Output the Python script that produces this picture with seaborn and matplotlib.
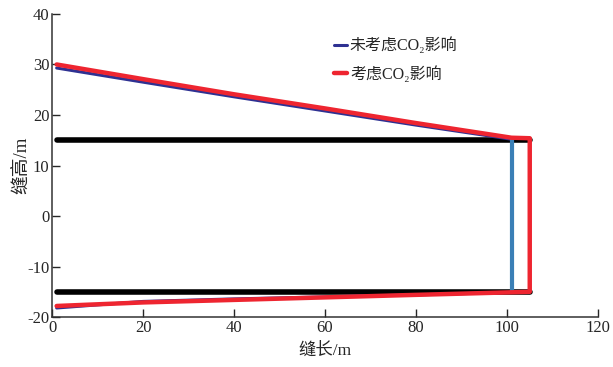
import matplotlib
matplotlib.use("Agg")
import matplotlib.pyplot as plt
import pandas as pd
import seaborn as sns

# fracture outline without CO2 effect (navy top/bottom, steel-blue tip)
x_no_co2 = [1, 20, 40, 60, 80, 101]
top_no_co2 = [29.3, 26.5, 23.6, 20.8, 18.0, 15.2]
bottom_no_co2 = [-18.2, -16.9, -16.4, -16.0, -15.6, -15.1]
tip_x_no_co2 = [101, 101]
tip_y_no_co2 = [15.2, -15.1]

# fracture outline with CO2 effect (red)
x_top_co2 = [1, 20, 40, 60, 80, 101, 105]
top_co2 = [30.0, 27.1, 24.1, 21.3, 18.4, 15.5, 15.4]
x_bottom_co2 = [105, 80, 60, 40, 20, 1]
bottom_co2 = [-15.0, -15.6, -16.1, -16.6, -17.1, -17.8]

# reservoir boundaries (black)
bound_x = [1, 105]
bound_upper = [15, 15]
bound_lower = [-15, -15]

label_no = "未考虑CO\u2082影响"
label_yes = "考虑CO\u2082影响"

sns.set_style("ticks")
plt.rcParams["font.family"] = ["Liberation Serif", "Noto Sans CJK SC", "DejaVu Serif"]
plt.rcParams["axes.unicode_minus"] = False

fig, ax = plt.subplots(figsize=(6.13, 3.67), dpi=100)
fig.subplots_adjust(left=0.085, right=0.9755, top=0.962, bottom=0.136)

for yy in (bound_upper, bound_lower):
    sns.lineplot(x=bound_x, y=yy, color="black", linewidth=4.0, ax=ax,
                 estimator=None, solid_capstyle="round", legend=False)

sns.lineplot(x=x_no_co2, y=top_no_co2, color="#2E3192", linewidth=2.2, ax=ax,
             sort=False, estimator=None, label=label_no)
sns.lineplot(x=x_no_co2, y=bottom_no_co2, color="#2E3192", linewidth=2.2, ax=ax,
             sort=False, estimator=None)
sns.lineplot(x=tip_x_no_co2, y=tip_y_no_co2, color="#3A7FB6", linewidth=3.0,
             ax=ax, sort=False, estimator=None)

red = pd.DataFrame({
    "x": x_top_co2 + x_bottom_co2,
    "y": top_co2 + bottom_co2,
})
sns.lineplot(data=red, x="x", y="y", color="#EE2530", linewidth=3.2, ax=ax,
             sort=False, estimator=None, label=label_yes,
             solid_joinstyle="round", solid_capstyle="round")

ax.set_xlim(0, 120)
ax.set_ylim(-20, 40)
ax.set_xticks(range(0, 121, 20))
ax.set_yticks(range(-20, 41, 10))
ax.tick_params(direction="in", length=6, width=1, labelsize=12, pad=2)
sns.despine(ax=ax)
for s in ("left", "bottom"):
    ax.spines[s].set_linewidth(1.1)
    ax.spines[s].set_color("#333333")

ax.set_xlabel("缝长/m", fontsize=12.5, labelpad=5)
ax.set_ylabel("缝高/m", fontsize=13.5, labelpad=-2)

handles, labels = ax.get_legend_handles_labels()
ax.legend(handles[-2:], labels[-2:], loc="upper left",
          bbox_to_anchor=(0.49, 0.97), frameon=False, fontsize=11.5,
          handlelength=0.8, handletextpad=0.2, labelspacing=0.75)

fig.savefig("out.png", dpi=100)
